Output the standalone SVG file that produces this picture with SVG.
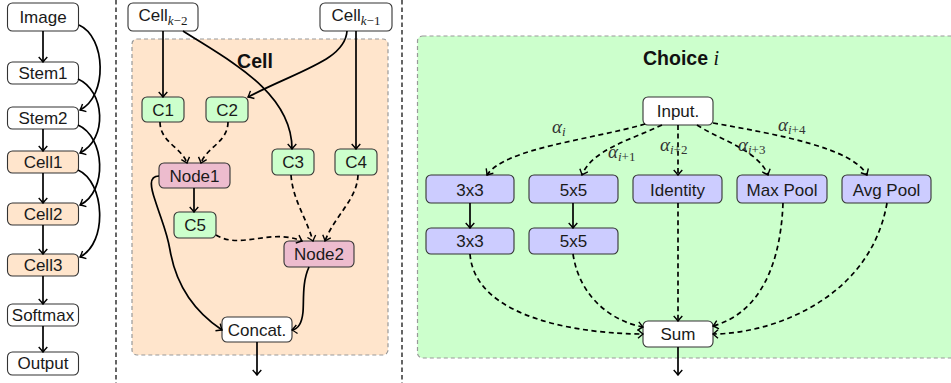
<svg xmlns="http://www.w3.org/2000/svg" width="951" height="383" viewBox="0 0 951 383">
<defs>
<style>
.box{stroke:#333;stroke-width:1.1}
.w{fill:#fff}
.o{fill:#FFE5CC}
.g{fill:#CCFFCC}
.b{fill:#CCCCFF}
.p{fill:#EDBCCE}
.t{font-family:"Liberation Sans",Arial,sans-serif;font-size:17px;fill:#1a1a1a;text-anchor:middle}
.title{font-family:"Liberation Sans",Arial,sans-serif;font-size:19.5px;font-weight:bold;fill:#111}
.m{font-family:"Liberation Serif","Times New Roman",serif;font-style:italic}
.r{font-family:"Liberation Serif","Times New Roman",serif;font-style:normal}
.lbl{font-family:"Liberation Serif","Times New Roman",serif;font-size:19px;fill:#333}
.c{fill:none;stroke:#000;stroke-width:1.7;marker-end:url(#ah)}
.d{stroke-dasharray:5 3.6}
.sep{stroke:#000;stroke-width:1.2;stroke-dasharray:4.5 3}
.panel{stroke:#999;stroke-width:1.2;stroke-dasharray:4 3}
</style>
<marker id="ah" viewBox="-7 -6 8 12" markerWidth="8" markerHeight="12" refX="0" refY="0" orient="auto" markerUnits="userSpaceOnUse">
<path d="M-5,-4.3 Q-1.7,-1.2 0,0 Q-1.7,1.2 -5,4.3" fill="none" stroke="#000" stroke-width="1.4"/>
</marker>
</defs>

<g id="separators">
<line class="sep" x1="116" y1="0" x2="116" y2="383"/>
<line class="sep" x1="402" y1="0" x2="402" y2="383"/>
</g>

<g id="panels">
<rect class="panel" x="132" y="39" width="256" height="316" rx="5" fill="#FFE5CC"/>
<rect class="panel" x="417.5" y="36" width="545" height="322" rx="5" fill="#CCFFCC"/>
<text class="title" x="255" y="68" text-anchor="middle">Cell</text>
<text class="title" x="643" y="65">Choice <tspan class="m" font-weight="normal" font-size="20">i</tspan></text>
</g>

<g id="n-image"><rect class="box w" x="7.5" y="3" width="71" height="28" rx="5"/><text class="t" x="43" y="23">Image</text></g>
<g id="n-stem1"><rect class="box w" x="7.5" y="62" width="71" height="22" rx="5"/><text class="t" x="43" y="79">Stem1</text></g>
<g id="n-stem2"><rect class="box w" x="7.5" y="107" width="71" height="22" rx="5"/><text class="t" x="43" y="124">Stem2</text></g>
<g id="n-cell1"><rect class="box o" x="7.5" y="151" width="71" height="22" rx="5"/><text class="t" x="43" y="168">Cell1</text></g>
<g id="n-cell2"><rect class="box o" x="7.5" y="203" width="71" height="22" rx="5"/><text class="t" x="43" y="220">Cell2</text></g>
<g id="n-cell3"><rect class="box o" x="7.5" y="254" width="71" height="22" rx="5"/><text class="t" x="43" y="271">Cell3</text></g>
<g id="n-softmax"><rect class="box w" x="7.5" y="304" width="71" height="22" rx="5"/><text class="t" x="43" y="321">Softmax</text></g>
<g id="n-output"><rect class="box w" x="7.5" y="352" width="71" height="23" rx="5"/><text class="t" x="43" y="369">Output</text></g>

<g id="n-cellk2"><rect class="box w" x="128" y="3" width="70" height="28" rx="5"/><text class="t" x="163" y="21">Cell<tspan class="m" font-size="13" dy="4">k</tspan><tspan class="r" font-size="13">−2</tspan></text></g>
<g id="n-cellk1"><rect class="box w" x="320" y="3" width="72" height="28" rx="5"/><text class="t" x="356" y="21">Cell<tspan class="m" font-size="13" dy="4">k</tspan><tspan class="r" font-size="13">−1</tspan></text></g>
<g id="n-c1"><rect class="box g" x="142" y="97" width="42" height="25" rx="5"/><text class="t" x="163" y="116">C1</text></g>
<g id="n-c2"><rect class="box g" x="206" y="97" width="42" height="25" rx="5"/><text class="t" x="227" y="116">C2</text></g>
<g id="n-c3"><rect class="box g" x="272" y="149" width="42" height="26" rx="5"/><text class="t" x="293" y="168">C3</text></g>
<g id="n-c4"><rect class="box g" x="335" y="149" width="42" height="26" rx="5"/><text class="t" x="356" y="168">C4</text></g>
<g id="n-node1"><rect class="box p" x="159" y="163" width="71" height="25" rx="5"/><text class="t" x="194.5" y="182">Node1</text></g>
<g id="n-c5"><rect class="box g" x="174" y="212" width="42" height="26" rx="5"/><text class="t" x="195" y="231">C5</text></g>
<g id="n-node2"><rect class="box p" x="284" y="241" width="70" height="26" rx="5"/><text class="t" x="319" y="260">Node2</text></g>
<g id="n-concat"><rect class="box w" x="222" y="317" width="70" height="25" rx="5"/><text class="t" x="257" y="336">Concat.</text></g>

<g id="n-input"><rect class="box w" x="643" y="97" width="70" height="28" rx="5"/><text class="t" x="678" y="117">Input.</text></g>
<g id="n-3x3a"><rect class="box b" x="426" y="175" width="88" height="28" rx="5"/><text class="t" x="470" y="196">3x3</text></g>
<g id="n-5x5a"><rect class="box b" x="529" y="175" width="89" height="28" rx="5"/><text class="t" x="573.5" y="196">5x5</text></g>
<g id="n-identity"><rect class="box b" x="633" y="175" width="89" height="28" rx="5"/><text class="t" x="677.5" y="196">Identity</text></g>
<g id="n-maxpool"><rect class="box b" x="737" y="175" width="90" height="28" rx="5"/><text class="t" x="782" y="196">Max Pool</text></g>
<g id="n-avgpool"><rect class="box b" x="842" y="175" width="89" height="28" rx="5"/><text class="t" x="886.5" y="196">Avg Pool</text></g>
<g id="n-3x3b"><rect class="box b" x="426" y="228" width="88" height="26" rx="5"/><text class="t" x="470" y="247">3x3</text></g>
<g id="n-5x5b"><rect class="box b" x="529" y="228" width="89" height="26" rx="5"/><text class="t" x="573.5" y="247">5x5</text></g>
<g id="n-sum"><rect class="box w" x="643" y="321" width="70" height="26" rx="5"/><text class="t" x="678" y="340">Sum</text></g>

<g id="connectors">
<path class="c" d="M43,31 L43,62"/>
<path class="c" d="M43,129 L43,151"/>
<path class="c" d="M43,173 L43,203"/>
<path class="c" d="M43,225 L43,254"/>
<path class="c" d="M43,276 L43,304"/>
<path class="c" d="M43,326 L43,352"/>
<path class="c" d="M79,25 C 106,37 108,96 80,110"/>
<path class="c" d="M78,79 C 105,91 108,139 80,153"/>
<path class="c" d="M78,125 C 105,137 108,191 80,205"/>
<path class="c" d="M78,170 C 105,182 108,243 80,257"/>

<path class="c" d="M163,31 L163,97"/>
<path class="c" d="M183,31 C 228,60 292,92 292,149"/>
<path class="c" d="M347,31 C 345,60 300,70 248,97"/>
<path class="c" d="M356,31 L356,149"/>
<path class="c d" d="M160,122 C 160,142 182,148 187,163"/>
<path class="c d" d="M228,122 C 228,142 206,148 201,163"/>
<path class="c" d="M194,188 L194,212"/>
<path class="c" d="M159,176 C 148,176 151,188 155,200 C 162,222 167,232 170,250 C 176,285 195,312 222,330"/>
<path class="c" d="M309,267 C 302,282 304,300 303,312 C 302,322 299,329 292,330"/>
<path class="c d" d="M291,175 C 293,200 305,215 313,241"/>
<path class="c d" d="M358,175 C 357,200 335,215 325,241"/>
<path class="c d" d="M216,235 C 240,250 270,228 302,241"/>
<path class="c" d="M257,342 L257,375"/>

<path class="c d" d="M645,124 C 590,140 505,148 487,175"/>
<path class="c d" d="M662,125 C 630,140 592,150 582,175"/>
<path class="c d" d="M678,125 L678,175"/>
<path class="c d" d="M697,125 C 720,140 758,150 768,175"/>
<path class="c d" d="M713,123 C 780,135 852,148 867,175"/>
<path class="c" d="M470,203 L470,228"/>
<path class="c" d="M573,203 L573,228"/>
<path class="c d" d="M470,254 C 475,320 585,334 643,334"/>
<path class="c d" d="M573,254 C 580,300 615,322 643,327"/>
<path class="c d" d="M678,203 L678,321"/>
<path class="c d" d="M783,203 C 780,280 750,316 713,326"/>
<path class="c d" d="M887,203 C 870,300 770,334 713,334"/>
<path class="c" d="M678,347 L678,375"/>
</g>

<g id="labels">
<text class="lbl" x="552" y="133"><tspan class="m">α</tspan><tspan class="m" font-size="13" dy="3">i</tspan></text>
<text class="lbl" x="608" y="158"><tspan class="m">α</tspan><tspan class="m" font-size="13" dy="3">i</tspan><tspan font-size="13">+1</tspan></text>
<text class="lbl" x="660" y="151"><tspan class="m">α</tspan><tspan class="m" font-size="13" dy="3">i</tspan><tspan font-size="13">+2</tspan></text>
<text class="lbl" x="738" y="151"><tspan class="m">α</tspan><tspan class="m" font-size="13" dy="3">i</tspan><tspan font-size="13">+3</tspan></text>
<text class="lbl" x="778" y="131"><tspan class="m">α</tspan><tspan class="m" font-size="13" dy="3">i</tspan><tspan font-size="13">+4</tspan></text>
</g>
</svg>
